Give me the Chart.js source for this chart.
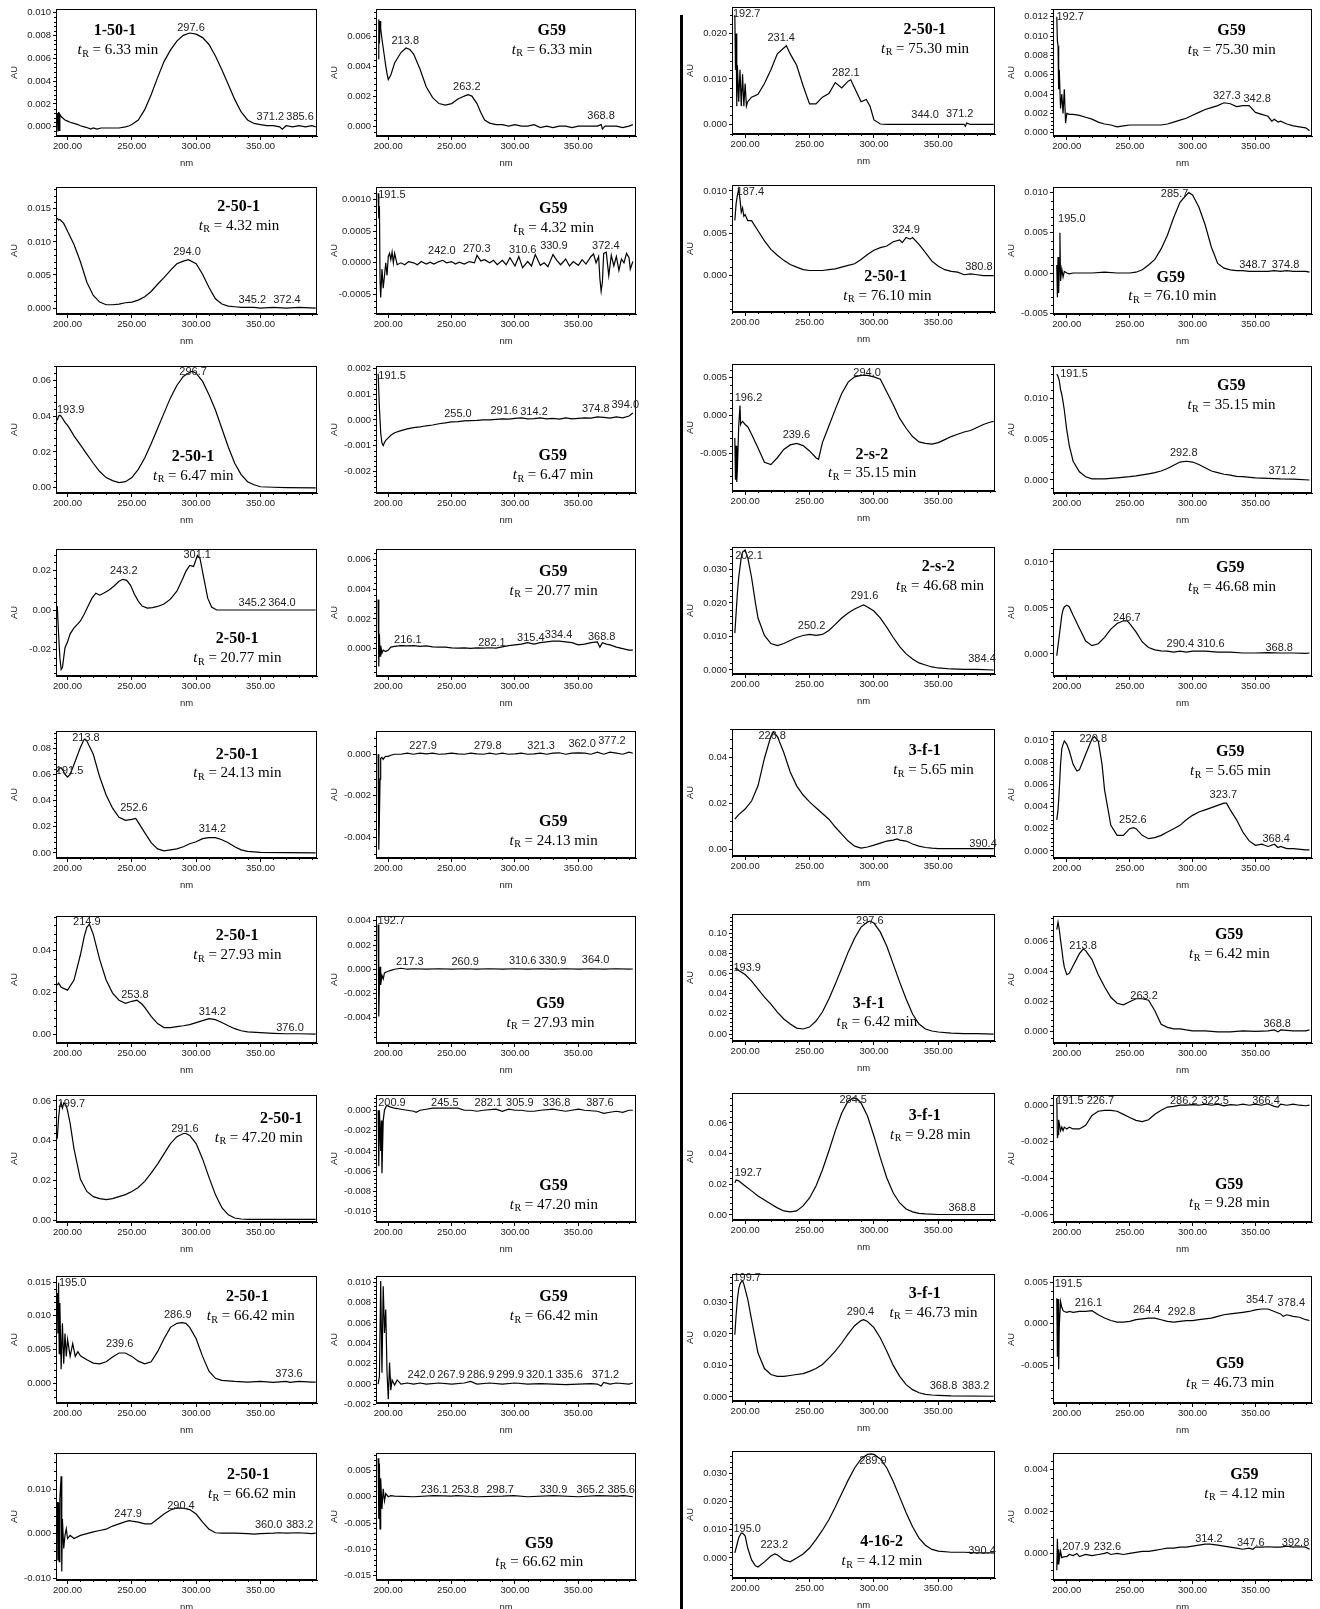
<!DOCTYPE html>
<html>
<head>
<meta charset="utf-8">
<script src="https://cdn.jsdelivr.net/npm/chart.js@4.4.1/dist/chart.umd.min.js"></script>
<style>
body { margin: 0; background: #fff; width: 1320px; height: 1609px; position: relative; overflow: hidden; }
#divider { position: absolute; left: 680px; top: 15px; width: 3px; height: 1594px; background: #000; }
</style>
</head>
<body>
<div id="divider"></div>
<script>
// wavelength tick labels (shared by every panel)
const wlTicks = ["200.00", "250.00", "300.00", "350.00"];
const wlTickVals = [200, 250, 300, 350];

// spectra: [nm, AU]
const p01 = [[192,0.0012],[192.5,-0.0004],[193,0.0013],[193.5,-0.0003],[194,0.0011],[195,0.0009],[196,0.0008],[198,0.0006],[200,0.0005],[202,0.0004],[205,0.0003],[208,0.0002],[210,0.0001],[213,0],[216,-0.0001],[218,-0.0002],[220,-0.0001],[223,-0.0002],[226,-0.0001],[230,-0.0001],[235,-0.0001],[240,-0.0001],[245,0],[248,0.0001],[250,0.0002],[255,0.0006],[260,0.0015],[265,0.0028],[270,0.0043],[275,0.0057],[280,0.0067],[285,0.0075],[290,0.008],[295,0.0082],[300,0.0081],[305,0.0078],[310,0.0072],[315,0.0062],[320,0.005],[325,0.0037],[330,0.0024],[335,0.0013],[340,0.0006],[345,0.0003],[350,0.0002],[355,0.0001],[360,0.0001],[365,0],[367,-0.0002],[370,0.0001],[375,0],[380,0.0001],[385,0],[390,0.0001],[393,0]];
const p02 = [[192,0.0045],[192.5,0.0071],[193,0.0055],[193.5,0.007],[194,0.0065],[195,0.0058],[196,0.0052],[197,0.0046],[198,0.004],[199,0.0035],[200,0.0031],[202,0.0034],[205,0.0042],[210,0.0049],[214,0.0052],[217,0.0051],[220,0.0048],[225,0.0038],[230,0.0026],[235,0.0019],[240,0.0015],[245,0.0014],[250,0.0015],[255,0.0018],[260,0.002],[263,0.0021],[266,0.002],[270,0.0015],[273,0.0009],[276,0.0004],[280,0.0002],[285,0.0001],[290,0.0001],[295,0],[300,0.0001],[305,0],[310,0],[315,0.0001],[320,-0.0001],[325,0],[330,-0.0001],[335,0],[340,0],[345,-0.0001],[350,0],[360,0],[365,0],[368,0.0001],[369,-0.0002],[371,0],[380,0],[385,-0.0001],[390,0],[393,0.0001]];
const p03 = [[192,0.024],[192.5,0.012],[193,0.02],[193.5,0.004],[194,0.013],[195,0.005],[196,0.012],[197,0.004],[198,0.011],[199,0.004],[200,0.009],[201,0.004],[202,0.005],[205,0.006],[210,0.0066],[215,0.009],[220,0.012],[225,0.0155],[230,0.0168],[232,0.0173],[235,0.0155],[240,0.013],[245,0.0085],[250,0.0045],[255,0.0045],[260,0.006],[265,0.0068],[270,0.0092],[275,0.008],[280,0.0095],[282,0.0098],[285,0.008],[290,0.005],[294,0.0055],[297,0.004],[300,0.001],[305,0.0001],[310,0],[340,0],[370,0],[371,-0.0004],[372,0.0003],[375,0],[393,0]];
const p04 = [[192,0.012],[192.5,0.0095],[193,0.009],[193.5,0.0045],[194,0.0065],[195,0.0025],[196,0.004],[197,0.002],[198,0.0045],[199,0.001],[200,0.002],[202,0.0019],[205,0.0019],[210,0.0018],[215,0.0016],[220,0.0014],[225,0.0011],[230,0.0009],[235,0.0008],[240,0.0006],[245,0.0007],[250,0.0008],[260,0.0008],[270,0.0008],[275,0.0008],[280,0.0009],[285,0.0011],[290,0.0013],[295,0.0015],[300,0.0018],[305,0.0021],[310,0.0024],[315,0.0026],[320,0.0028],[325,0.0031],[330,0.003],[335,0.0027],[340,0.0028],[345,0.0028],[350,0.0021],[355,0.0019],[360,0.0017],[363,0.0012],[365,0.0014],[368,0.0011],[370,0.0012],[375,0.0009],[380,0.0007],[385,0.0006],[390,0.0005],[393,0.0002]];
const p05 = [[192,0.0136],[193,0.0133],[194,0.0134],[195,0.0132],[197,0.0128],[200,0.0116],[205,0.0096],[210,0.007],[215,0.0039],[220,0.0019],[225,0.0009],[230,0.0005],[235,0.0005],[240,0.0006],[245,0.0008],[250,0.0009],[255,0.0012],[260,0.0017],[265,0.0025],[270,0.0036],[275,0.0046],[280,0.0057],[285,0.0067],[290,0.0071],[294,0.0073],[300,0.0067],[305,0.0051],[310,0.0031],[315,0.0014],[320,0.0006],[325,0.0003],[330,0.0002],[335,0.0001],[345,0.0001],[350,0],[360,0.0001],[370,0],[380,0.0001],[393,0]];
const p06 = [[192,0.0011],[192.5,0.0007],[193,0.0009],[193.5,-0.0003],[194,-0.00055],[195,-0.0001],[196,-0.0004],[197,-0.0002],[198,0],[199,-0.0002],[200,0.0001],[201,0.00015],[202,0.00005],[203,0.00017],[204,0],[205,0.00015],[207,-0.00003],[210,0],[213,-0.00003],[216,0.00002],[220,0],[223,-0.00003],[226,0.00002],[230,-0.00002],[233,0.00001],[236,-0.00002],[240,0.00002],[243,0.00004],[246,0],[250,0.00002],[253,-0.00002],[256,0.00001],[260,-0.00002],[264,0.00002],[268,0],[270,0.00012],[273,0.00003],[276,0.00005],[280,0],[283,0.00004],[286,-0.00003],[290,0.00004],[293,-0.00003],[296,0.00008],[300,-0.00005],[303,0.0001],[306,-0.00008],[310,0.00002],[313,-0.00005],[316,0.00013],[320,-0.00004],[323,0],[326,-0.00006],[330,0.00013],[333,0.00004],[336,-0.00003],[340,0.00006],[343,-0.00005],[346,0.00002],[350,-0.00004],[353,0.00005],[356,-0.00002],[360,0.0001],[362,0.00014],[364,0],[366,0.0001],[367,-0.00025],[368,-0.00045],[369,-0.0003],[370,0.00015],[372,0.00017],[374,-0.0002],[376,0.00012],[378,-0.00005],[380,0.0001],[382,-0.00012],[384,0.00006],[386,0],[388,0.00015],[390,0.00008],[391,-0.0001],[393,0.00002]];
const p07 = [[192,0.0065],[193,0.0085],[194,0.0095],[195,0.0102],[196,0.009],[197,0.0075],[198,0.008],[199,0.007],[200,0.0072],[202,0.0065],[205,0.0065],[210,0.0053],[215,0.0041],[220,0.0031],[225,0.0024],[230,0.0018],[235,0.0013],[240,0.001],[245,0.0007],[250,0.0006],[260,0.0006],[265,0.0007],[270,0.0008],[275,0.001],[280,0.0012],[285,0.0014],[290,0.0019],[295,0.0025],[300,0.003],[305,0.0033],[310,0.0035],[315,0.004],[320,0.0042],[322,0.0039],[325,0.0045],[328,0.0043],[330,0.0045],[335,0.0037],[340,0.0027],[345,0.0017],[350,0.0011],[355,0.0007],[360,0.0005],[365,0.0004],[370,0.0001],[375,0.0002],[380,0.0001],[385,0],[393,0]];
const p08 = [[192,0.001],[192.5,-0.003],[193,0.002],[193.5,-0.0025],[194,0.001],[194.5,0.005],[195,-0.001],[196,0.0005],[197,-0.0005],[198,0.0002],[200,0],[202,-0.0001],[205,0],[220,0],[230,0.0001],[240,0],[250,0],[255,0.0001],[260,0.0004],[265,0.001],[270,0.0017],[275,0.003],[280,0.0047],[285,0.0069],[290,0.0088],[295,0.0097],[297,0.01],[300,0.0097],[305,0.0082],[310,0.006],[315,0.0032],[320,0.0012],[325,0.0006],[330,0.0004],[335,0.0003],[340,0.0003],[345,0.0002],[360,0.0002],[365,0.0003],[370,0.0002],[375,0.0003],[380,0.0002],[390,0.0002],[393,0.0001]];
const p09 = [[192,0.0377],[193,0.04],[194,0.0405],[195,0.04],[196,0.0388],[198,0.0365],[200,0.0348],[202,0.0326],[205,0.029],[210,0.024],[215,0.0188],[220,0.0137],[225,0.0091],[230,0.0057],[235,0.004],[240,0.0029],[245,0.0034],[250,0.0057],[255,0.0103],[260,0.0166],[265,0.0246],[270,0.0331],[275,0.0417],[280,0.0502],[285,0.0571],[290,0.0622],[295,0.0645],[297,0.065],[300,0.064],[305,0.0594],[310,0.052],[315,0.0434],[320,0.0331],[325,0.0228],[330,0.0137],[335,0.0074],[340,0.0034],[345,0.0017],[350,0.0006],[360,0.0003],[370,0.0001],[393,0]];
const p10 = [[192,0.0018],[193,0.00046],[194,-0.0005],[195,-0.0009],[196,-0.001],[197,-0.00088],[198,-0.0008],[200,-0.0007],[202,-0.0006],[205,-0.0005],[210,-0.00042],[215,-0.00035],[220,-0.0003],[225,-0.00027],[230,-0.00023],[235,-0.0002],[240,-0.00015],[245,-0.00012],[250,-0.00008],[255,-0.00007],[260,-0.00004],[265,-0.00003],[270,-0.00002],[275,0],[280,0],[285,0.00002],[290,0.00004],[295,0.00003],[300,0.00006],[305,0.00008],[310,0.00004],[315,0.00005],[320,0.00008],[325,0.00004],[330,0.00006],[335,0.00003],[340,0.00008],[345,0.00004],[350,0.00006],[355,0.00008],[360,0.00007],[365,0.00012],[370,0.0001],[375,0.00007],[380,0.00012],[385,0.00008],[390,0.00015],[393,0.00027]];
const p11 = [[192,-0.003],[192.5,-0.0085],[193,-0.004],[193.5,-0.0088],[194,-0.007],[195,-0.0015],[196,0.0013],[196.5,-0.0012],[197,-0.001],[198,-0.0008],[199,-0.001],[200,-0.0012],[202,-0.0015],[205,-0.0025],[210,-0.0043],[215,-0.0062],[220,-0.0065],[225,-0.0056],[230,-0.0045],[235,-0.0039],[240,-0.0037],[245,-0.004],[250,-0.0047],[255,-0.0056],[257,-0.0058],[260,-0.0036],[265,-0.0014],[270,0.0008],[275,0.0029],[280,0.0044],[285,0.0051],[290,0.0053],[295,0.0053],[300,0.0051],[305,0.0048],[310,0.0031],[315,0.0014],[320,-0.0004],[325,-0.0017],[330,-0.0028],[335,-0.0035],[340,-0.0037],[345,-0.0038],[350,-0.0036],[355,-0.0032],[360,-0.0028],[365,-0.0025],[370,-0.0022],[375,-0.002],[380,-0.0016],[385,-0.0012],[390,-0.0009],[393,-0.0008]];
const p12 = [[192,0.013],[193,0.0127],[194,0.0122],[195,0.0111],[196,0.0105],[197,0.0096],[198,0.0086],[199,0.0073],[200,0.0061],[202,0.0042],[205,0.0023],[210,0.001],[215,0.0004],[220,0.00013],[230,0.00013],[240,0.00025],[250,0.0004],[255,0.0005],[260,0.00063],[265,0.00076],[270,0.0009],[275,0.0011],[280,0.0014],[285,0.0018],[290,0.0022],[295,0.0023],[300,0.0022],[305,0.0019],[310,0.0015],[315,0.0011],[320,0.0009],[325,0.0007],[330,0.0006],[335,0.00044],[340,0.0004],[350,0.00025],[360,0.0002],[370,0.00013],[380,0.0001],[393,0]];
const p13 = [[192,0.002],[193,-0.012],[194,-0.024],[195,-0.03],[196,-0.029],[197,-0.024],[198,-0.019],[200,-0.016],[202,-0.012],[205,-0.009],[208,-0.007],[210,-0.0055],[213,-0.002],[216,0.002],[219,0.006],[222,0.0085],[225,0.0075],[228,0.0085],[232,0.01],[236,0.012],[240,0.0145],[243,0.0155],[246,0.015],[249,0.0125],[252,0.008],[255,0.0045],[258,0.002],[262,0.001],[266,0.0012],[270,0.0018],[275,0.003],[280,0.0055],[285,0.0095],[289,0.015],[292,0.0195],[295,0.0225],[298,0.022],[301,0.0275],[303,0.026],[306,0.016],[309,0.006],[312,0.0015],[316,0],[393,0]];
const p14 = [[192,0.0033],[192.5,-0.0012],[193,0.001],[193.5,-0.0005],[194,0.0002],[195,-0.0003],[196,-0.0001],[198,-0.0002],[200,-0.0001],[202,0.0001],[205,0.00015],[210,0.0002],[215,0.00018],[220,0.0002],[225,0.00015],[230,0.00018],[235,0.00012],[240,0.0001],[245,0.0001],[250,0.00005],[255,0.00003],[260,0.00005],[265,0.00002],[270,0.00005],[275,0.00003],[280,0.00006],[285,0.00004],[290,0.00012],[295,0.0002],[300,0.00025],[305,0.0003],[310,0.0004],[315,0.0003],[320,0.0004],[325,0.00045],[330,0.0005],[335,0.0005],[340,0.00045],[345,0.0004],[350,0.00025],[355,0.0003],[360,0.0004],[365,0.00045],[367,0.0001],[369,0.0004],[372,0.0003],[375,0.00025],[380,0.0001],[385,0],[390,-0.0001],[393,-0.0001]];
const p15 = [[192,0.011],[193,0.017],[194,0.023],[195,0.0276],[196,0.0306],[197,0.0336],[198,0.0352],[200,0.0358],[202,0.0336],[205,0.0276],[208,0.02],[210,0.0155],[215,0.0103],[220,0.0079],[225,0.0073],[230,0.0079],[235,0.0088],[240,0.0097],[245,0.0103],[250,0.0106],[255,0.0103],[260,0.0106],[265,0.0118],[270,0.0136],[275,0.0155],[280,0.017],[285,0.0182],[290,0.0191],[292,0.0194],[295,0.0188],[300,0.0176],[305,0.0155],[310,0.0127],[315,0.0097],[320,0.007],[325,0.0048],[330,0.0033],[335,0.0021],[340,0.0015],[345,0.0009],[350,0.0006],[360,0.0003],[370,0.0002],[380,0.0002],[393,0]];
const p16 = [[192,-0.0002],[193,0.0009],[194,0.002],[195,0.0031],[196,0.0042],[197,0.0048],[198,0.0051],[200,0.0053],[202,0.0051],[205,0.0042],[210,0.0028],[215,0.0014],[220,0.0009],[225,0.0011],[230,0.0018],[235,0.0027],[240,0.0033],[245,0.0036],[248,0.0036],[250,0.0033],[255,0.0024],[260,0.0013],[265,0.0007],[270,0.00044],[275,0.00033],[280,0.0003],[285,0.0002],[290,0.0003],[295,0.0002],[300,0.0003],[310,0.0003],[320,0.0002],[330,0.0002],[340,0.0001],[350,0.0001],[360,0.00015],[370,0.0001],[380,0.0001],[390,0.00005],[393,0.0001]];
const p17 = [[192,0.062],[193,0.0637],[194,0.065],[195,0.065],[196,0.0637],[197,0.062],[198,0.06],[200,0.058],[202,0.06],[205,0.0676],[210,0.0808],[213,0.087],[215,0.0855],[220,0.0754],[225,0.058],[230,0.0443],[235,0.0342],[240,0.0272],[245,0.0249],[250,0.0256],[253,0.0264],[255,0.0233],[260,0.0155],[265,0.0078],[270,0.0031],[275,0.0016],[280,0.0023],[285,0.0031],[290,0.0047],[295,0.007],[300,0.0085],[305,0.0109],[310,0.0117],[315,0.0117],[320,0.0101],[325,0.0078],[330,0.0047],[335,0.0023],[340,0.0012],[345,0.0008],[350,0.0004],[370,0.0002],[393,0]];
const p18 = [[192,0],[192.5,-0.0046],[193,-0.003],[193.5,-0.0012],[194,-0.0002],[195,-0.00015],[196,-0.00025],[197,-0.00015],[198,-0.0001],[200,-0.0001],[202,-0.00005],[205,0],[210,0],[215,0.00005],[220,0],[225,0.00005],[230,0.00002],[235,0.00005],[240,0],[245,0.00002],[250,0.00005],[255,0.00002],[260,0],[265,0.00005],[270,0.00002],[275,0],[280,0.00005],[285,0],[290,0.00005],[295,0],[300,0.00002],[305,0.00005],[310,0],[315,0.00002],[320,0.00005],[325,0],[330,0.00005],[335,0.00007],[340,0],[345,0.00005],[350,0.00007],[355,0.00005],[360,0],[365,0.0001],[370,0],[375,0.0001],[380,0.00005],[385,0],[390,0.0001],[393,0.00005]];
const p19 = [[192,0.013],[195,0.015],[200,0.0174],[205,0.0209],[210,0.0275],[215,0.0395],[220,0.049],[222,0.0509],[225,0.049],[230,0.042],[235,0.0335],[240,0.0275],[245,0.0235],[250,0.0205],[255,0.018],[260,0.0155],[265,0.013],[270,0.0096],[275,0.0065],[280,0.0035],[285,0.0013],[290,0.0004],[295,0.0009],[300,0.0017],[305,0.0026],[310,0.0035],[315,0.0039],[318,0.0044],[320,0.0039],[325,0.0035],[330,0.0022],[335,0.0013],[340,0.0007],[345,0.0004],[350,0.0002],[370,0.0002],[393,0.0002]];
const p20 = [[192,0.0028],[193,0.0037],[194,0.0055],[195,0.0078],[196,0.0092],[197,0.0096],[198,0.0099],[200,0.0096],[202,0.009],[205,0.0078],[208,0.0072],[210,0.0073],[215,0.0087],[220,0.0101],[222,0.0103],[225,0.0099],[228,0.0078],[230,0.0055],[235,0.0023],[240,0.0014],[245,0.0014],[250,0.002],[253,0.0021],[255,0.002],[260,0.0014],[265,0.0011],[270,0.0012],[275,0.0014],[280,0.0017],[285,0.002],[290,0.0023],[295,0.0028],[300,0.0032],[305,0.0035],[310,0.0037],[315,0.0039],[320,0.0041],[325,0.0043],[327,0.0043],[330,0.0037],[335,0.0028],[340,0.0017],[345,0.0009],[350,0.0005],[355,0.0006],[360,0.0004],[365,0.0006],[368,0.0003],[370,0.0004],[375,0.0002],[380,0.0002],[390,0.0001],[393,0.0001]];
const p21 = [[192,0.0236],[193,0.0245],[195,0.0226],[200,0.0212],[205,0.026],[210,0.038],[213,0.0467],[215,0.051],[217,0.0525],[220,0.0477],[225,0.0357],[230,0.026],[235,0.0198],[240,0.0164],[245,0.0149],[250,0.0159],[254,0.0164],[258,0.0145],[260,0.013],[265,0.0087],[270,0.0053],[275,0.0034],[280,0.0034],[285,0.0039],[290,0.0043],[295,0.0048],[300,0.0058],[305,0.0067],[310,0.0077],[315,0.0072],[320,0.0058],[325,0.0043],[330,0.0029],[335,0.0019],[340,0.0014],[350,0.001],[360,0.0007],[370,0.0005],[380,0.0005],[393,0.0003]];
const p22 = [[192,0.0037],[192.5,-0.0039],[193,-0.0013],[193.5,0.0002],[194,-0.0013],[195,-0.0005],[196,-0.0008],[197,-0.0003],[198,-0.00025],[200,-0.00017],[202,-0.0001],[205,0],[210,0.00008],[215,0],[220,0.00004],[230,0],[240,0.00004],[250,0],[260,0.00004],[270,0],[280,0.00004],[290,0],[300,0.00004],[310,0],[320,0.00004],[330,0],[340,0.00004],[350,0],[360,0.00004],[370,0],[380,0.00004],[390,0],[393,0.00002]];
const p23 = [[192,0.0644],[193,0.065],[194,0.0645],[195,0.063],[200,0.059],[205,0.0525],[210,0.0445],[215,0.0366],[220,0.0297],[225,0.0218],[230,0.0149],[235,0.0099],[240,0.0059],[245,0.005],[250,0.0069],[255,0.0129],[260,0.0218],[265,0.0347],[270,0.0495],[275,0.0653],[280,0.0812],[285,0.095],[290,0.106],[295,0.111],[297,0.112],[300,0.11],[305,0.101],[310,0.087],[315,0.0693],[320,0.0515],[325,0.0347],[330,0.0198],[335,0.0099],[340,0.005],[345,0.003],[350,0.002],[360,0.001],[370,0.0005],[380,0.0005],[393,0]];
const p24 = [[192,0.0068],[193,0.0073],[194,0.0068],[195,0.0061],[196,0.0055],[197,0.0048],[198,0.0043],[200,0.0038],[202,0.0039],[205,0.0044],[210,0.0052],[213,0.0055],[215,0.0054],[220,0.0048],[225,0.0038],[230,0.003],[235,0.0023],[240,0.0019],[245,0.0018],[250,0.002],[255,0.0022],[260,0.0022],[265,0.0021],[270,0.0014],[275,0.0005],[280,0.0003],[285,0.0002],[290,0.0002],[295,0.00013],[300,0.00007],[310,0.00007],[320,0],[330,0],[340,0.00007],[350,0.00003],[360,0.00007],[365,0.00013],[368,0],[370,0.00013],[380,0.00007],[390,0.00007],[393,0.00013]];
const p25 = [[192,0.041],[193,0.0513],[194,0.0575],[195,0.059],[196,0.0564],[197,0.059],[198,0.0585],[199,0.0575],[200,0.055],[202,0.0487],[205,0.0359],[210,0.0205],[215,0.0144],[220,0.0118],[225,0.0108],[230,0.0103],[235,0.0108],[240,0.0118],[245,0.0128],[250,0.0144],[255,0.0164],[260,0.0195],[265,0.0236],[270,0.0282],[275,0.0333],[280,0.0385],[285,0.042],[290,0.0436],[292,0.0436],[295,0.0426],[300,0.0385],[305,0.0308],[310,0.0215],[315,0.0128],[320,0.0062],[325,0.0026],[330,0.001],[335,0.0005],[340,0.0003],[393,0.0003]];
const p26 = [[192,0],[192.5,-0.0055],[193,0],[193.5,-0.002],[194,-0.004],[194.5,-0.001],[195,-0.0062],[196,-0.001],[197,0],[198,0.0003],[199,0.0005],[200,0.0004],[202,0.0003],[205,0.0002],[210,0.0001],[215,0],[220,-0.0001],[222,-0.0002],[225,0],[230,0.0001],[235,0.0002],[250,0.0002],[255,0.0002],[260,0],[265,0],[270,-0.0001],[275,0],[285,0.0001],[290,-0.0001],[295,0.0001],[300,0],[305,0],[310,-0.0001],[315,-0.0001],[320,0],[330,0.0001],[335,0],[340,-0.0001],[345,0],[350,0.0001],[355,0],[365,-0.0001],[370,-0.0003],[375,-0.0002],[380,-0.0001],[385,-0.0002],[390,0],[393,0]];
const p27 = [[192,0.0209],[193,0.0228],[195,0.0222],[200,0.0189],[205,0.0157],[210,0.0124],[215,0.0098],[220,0.0072],[225,0.0046],[230,0.0026],[235,0.002],[240,0.0026],[245,0.0059],[250,0.0111],[255,0.0189],[260,0.0293],[265,0.0417],[270,0.0548],[275,0.0665],[280,0.0743],[284,0.0763],[287,0.0757],[290,0.073],[295,0.0645],[300,0.0515],[305,0.0372],[310,0.0241],[315,0.0143],[320,0.0078],[325,0.0039],[330,0.002],[335,0.001],[340,0.0007],[350,0.0003],[393,0.0003]];
const p28 = [[192,0.0004],[192.5,-0.0018],[193,-0.0016],[193.5,-0.0008],[194,-0.001],[195,-0.0014],[196,-0.0012],[197,-0.0014],[198,-0.0012],[200,-0.0013],[202,-0.0012],[205,-0.0013],[210,-0.0013],[215,-0.0011],[220,-0.00056],[225,-0.00033],[230,-0.00028],[235,-0.00028],[240,-0.00033],[245,-0.0005],[250,-0.00067],[255,-0.00083],[260,-0.0009],[265,-0.0008],[270,-0.0005],[275,-0.00028],[280,-0.0001],[285,-0.00006],[290,0],[295,0],[300,0.00003],[305,0],[310,0.00006],[315,0],[320,0.00006],[325,-0.00003],[330,0.00003],[335,0],[340,0.00006],[345,0],[350,0.00006],[355,0],[360,0.00008],[365,-0.00006],[368,-0.0001],[370,0.00006],[375,0],[380,0.00006],[385,0],[390,-0.00003],[393,0]];
const p29 = [[192,0.0134],[192.5,0.0074],[193,0.0149],[193.5,0.0044],[194,0.0119],[195,0.0021],[196,0.0089],[197,0.0029],[198,0.0074],[199,0.004],[200,0.0065],[202,0.004],[204,0.0059],[206,0.004],[208,0.0047],[210,0.0041],[215,0.0035],[220,0.003],[225,0.0029],[230,0.0032],[235,0.0039],[240,0.0045],[245,0.0045],[250,0.004],[255,0.0033],[260,0.0029],[265,0.0032],[270,0.0047],[275,0.0066],[280,0.0083],[285,0.0089],[289,0.009],[292,0.0089],[295,0.0083],[300,0.0066],[305,0.004],[310,0.0018],[315,0.00075],[320,0.00045],[330,0.0003],[340,0.0002],[350,0.0003],[360,0.00015],[370,0.0003],[373,0.00015],[380,0.0003],[390,0.0002],[393,0.0002]];
const p30 = [[192,0],[193,0.00075],[194,0.0101],[195,0.0011],[196,0.0096],[197,0.005],[198,0.0073],[199,0.0011],[200,-0.0015],[201,0.0021],[202,-0.0006],[203,0.0004],[205,-0.0001],[207,0.0004],[210,0],[215,0.0001],[220,0],[225,0.0001],[230,0],[240,0.0001],[250,0],[260,0.0001],[265,0.00026],[270,0],[280,0.0001],[290,0],[300,0.0001],[310,0],[320,0.00005],[330,0],[340,-0.00005],[350,0],[360,0.00005],[365,0],[368,-0.0002],[370,0.00015],[375,0],[380,0.0001],[390,0],[393,0.0001]];
const p31 = [[192,0.0197],[193,0.026],[194,0.031],[195,0.0342],[196,0.0358],[197,0.0365],[198,0.0368],[199,0.0358],[200,0.0342],[202,0.031],[205,0.0245],[208,0.0181],[210,0.0139],[215,0.009],[220,0.0071],[225,0.0065],[230,0.0065],[235,0.0068],[240,0.0071],[245,0.0074],[250,0.0081],[255,0.009],[260,0.0103],[265,0.0123],[270,0.0145],[275,0.0171],[280,0.02],[285,0.0226],[290,0.0242],[292,0.0245],[295,0.0239],[300,0.022],[305,0.0187],[310,0.0145],[315,0.01],[320,0.0065],[325,0.0039],[330,0.0023],[335,0.0013],[340,0.0008],[345,0.0006],[350,0.0005],[360,0.0003],[393,0.0002]];
const p32 = [[192,0.0031],[192.5,-0.004],[193,0.003],[193.5,-0.0055],[194,-0.0003],[195,0.0027],[196,0.002],[197,0.0016],[198,0.0015],[200,0.0014],[202,0.0015],[205,0.0014],[210,0.0015],[215,0.0015],[220,0.0016],[225,0.0011],[230,0.0007],[235,0.0004],[240,0.0002],[245,0.0002],[250,0.0003],[255,0.0005],[260,0.0006],[265,0.0007],[270,0.0007],[275,0.0005],[280,0.0003],[285,0.0002],[290,0.0003],[295,0.0004],[300,0.0004],[305,0.0005],[310,0.0006],[315,0.0007],[320,0.0009],[325,0.0011],[330,0.0012],[335,0.0013],[340,0.0014],[345,0.0015],[350,0.0017],[355,0.0018],[360,0.0018],[365,0.0015],[370,0.0012],[372,0.0009],[375,0.0011],[380,0.0009],[385,0.0008],[390,0.0005],[393,0.0004]];
const p33 = [[192,0.0071],[192.5,-0.006],[193,0.007],[193.5,-0.0063],[194,0.0078],[195,0.0129],[195.5,-0.0085],[196,0.0033],[197,-0.0033],[198,-0.0004],[199,0.0011],[200,-0.0011],[202,-0.0004],[205,-0.0011],[210,-0.0004],[215,0],[220,0.0004],[225,0.0007],[230,0.001],[235,0.0017],[240,0.0022],[245,0.0027],[248,0.0029],[250,0.0028],[255,0.0026],[260,0.0022],[265,0.0022],[270,0.0033],[275,0.0044],[280,0.0053],[285,0.0058],[290,0.0057],[295,0.0054],[300,0.0044],[305,0.0026],[310,0.001],[315,0.0002],[320,0.0001],[330,0.0001],[340,0],[345,-0.0001],[350,0],[360,0.0001],[365,0.0002],[370,0.0001],[380,0.0002],[390,0],[393,0.0001]];
const p34 = [[192,0.0073],[192.5,-0.0042],[193,0.0063],[193.5,-0.0061],[194,0.0035],[195,-0.0023],[196,0.0015],[197,-0.0008],[198,0.0006],[200,0],[202,0.0002],[205,0.0001],[220,0],[236,0.0002],[250,0.0001],[254,0.0002],[270,0],[290,0.0001],[299,0.0002],[310,0],[330,0.0002],[350,0],[365,0.0002],[380,0.0001],[386,0.0002],[393,0]];
const p35 = [[192,0.0018],[193,0.0035],[195,0.0071],[197,0.0088],[198,0.0088],[200,0.0078],[202,0.0035],[205,-0.0007],[208,-0.0028],[210,-0.0032],[215,-0.0014],[220,0.0007],[223,0.0014],[225,0.0011],[230,-0.0007],[235,-0.0014],[240,0],[245,0.0014],[250,0.0035],[255,0.0065],[260,0.0098],[265,0.0135],[270,0.018],[275,0.0228],[280,0.0275],[285,0.0318],[290,0.035],[295,0.0366],[298,0.0368],[300,0.0366],[305,0.035],[310,0.0318],[315,0.027],[320,0.0215],[325,0.016],[330,0.011],[335,0.007],[340,0.0045],[345,0.003],[350,0.0024],[360,0.002],[370,0.002],[380,0.0018],[393,0.0018]];
const p36 = [[192,-0.0008],[192.5,0.0007],[193,-0.0005],[193.5,0.0002],[194,-0.0003],[195,0.0001],[196,-0.0002],[198,-0.00015],[200,-0.00015],[202,-0.00005],[205,-0.0001],[208,0],[210,-0.00015],[215,-0.00005],[220,-0.0001],[225,-0.00005],[230,0],[232,0.00005],[235,-0.00005],[240,0],[245,-0.00005],[250,0],[255,0.00005],[260,0.0001],[265,0.0001],[270,0.00015],[275,0.0002],[280,0.00025],[285,0.00025],[290,0.0003],[295,0.0003],[300,0.00035],[305,0.0004],[310,0.00044],[314,0.00044],[320,0.0004],[325,0.00035],[330,0.0003],[335,0.00025],[340,0.0002],[345,0.00025],[348,0.0002],[350,0.0003],[355,0.0003],[360,0.00032],[365,0.0003],[370,0.0003],[375,0.00035],[380,0.0003],[385,0.00032],[390,0.0003],[393,0.0002]];

// peak labels: [text, nm, AU]
const lab01 = [["297.6",296,0.00865],["371.2",357.7,0.00087],["385.6",380.8,0.00087]];
const lab02 = [["213.8",213.4,0.0057],["263.2",262,0.0026],["368.8",367.9,0.00066]];
const lab03 = [["192.7",201.2,0.0243],["231.4",228,0.0189],["282.1",278.2,0.0113],["344.0",339.7,0.002],["371.2",366.6,0.0022]];
const lab04 = [["192.7",202.7,0.012],["327.3",327.2,0.00385],["342.8",351.4,0.0035]];
const lab05 = [["294.0",292.9,0.0085],["345.2",343.7,0.0012],["372.4",370.6,0.0012]];
const lab06 = [["191.5",202.9,0.00107],["242.0",242.3,0.00018],["270.3",269.8,0.00022],["310.6",306.1,0.0002],["330.9",330.7,0.00026],["372.4",371.7,0.00026]];
const lab07 = [["187.4",204,0.0099],["324.9",325,0.0054],["380.8",381.5,0.001]];
const lab08 = [["195.0",204,0.0067],["285.7",285.7,0.0098],["348.7",348,0.001],["374.8",374,0.001]];
const lab09 = [["193.9",202.4,0.0434],["296.7",297.6,0.0645]];
const lab10 = [["191.5",203,0.0017],["255.0",255,0.00023],["291.6",291.5,0.00035],["314.2",315,0.0003],["374.8",363.8,0.00042],["394.0",387,0.00058]];
const lab11 = [["196.2",202.6,0.00235],["239.6",239.8,-0.0026],["294.0",294.7,0.0056]];
const lab12 = [["191.5",205.7,0.013],["292.8",293,0.0033],["371.2",371.4,0.0011]];
const lab13 = [["243.2",243.7,0.0195],["301.1",300.8,0.0277],["345.2",343.7,0.0036],["364.0",366.7,0.0036]];
const lab14 = [["216.1",215.4,0.00055],["282.1",281.8,0.0004],["315.4",312.5,0.00075],["334.4",334.4,0.0009],["368.8",368.4,0.0008]];
const lab15 = [["202.1",203,0.034],["250.2",251.6,0.013],["291.6",292.7,0.0221],["384.4",383.9,0.0033]];
const lab16 = [["246.7",247.7,0.0039],["290.4",290.3,0.0011],["310.6",314.5,0.0011],["368.8",368.9,0.00067]];
const lab17 = [["213.8",214.3,0.0878],["191.5",201.6,0.063],["252.6",251.6,0.0342],["314.2",312.7,0.0186]];
const lab18 = [["227.9",227.5,0.00039],["279.8",278.5,0.00039],["321.3",320.6,0.00039],["362.0",353,0.00049],["377.2",376.5,0.00063]];
const lab19 = [["226.8",221,0.0492],["317.8",319.4,0.0078],["390.4",384.7,0.0022]];
const lab20 = [["220.8",221,0.0101],["252.6",252.5,0.0028],["323.7",324.5,0.005],["368.4",366.5,0.0011]];
const lab21 = [["214.9",215,0.0535],["253.8",252.4,0.0188],["314.2",312.7,0.0106],["376.0",373,0.0034]];
const lab22 = [["192.7",202.4,0.004],["217.3",217,0.0006],["260.9",260.7,0.0006],["310.6",306.1,0.00067],["330.9",329.6,0.00067],["364.0",363.6,0.00076]];
const lab23 = [["193.9",201.6,0.0653],["297.6",296.8,0.112]];
const lab24 = [["213.8",212.9,0.0057],["263.2",261.4,0.0024],["368.8",367.3,0.00054]];
const lab25 = [["199.7",203,0.0585],["291.6",291.3,0.0457]];
const lab26 = [["200.9",202.9,0.0007],["245.5",244.6,0.0007],["282.1",279,0.0007],["305.9",303.8,0.0007],["336.8",332.8,0.0007],["387.6",367,0.0007]];
const lab27 = [["192.7",202.4,0.0274],["284.5",283.9,0.075],["368.8",368.5,0.0046]];
const lab28 = [["191.5",202.4,0.00022],["226.7",226.7,0.00022],["286.2",293,0.00022],["322.5",318,0.00022],["366.4",358.4,0.00022]];
const lab29 = [["195.0",204,0.0149],["239.6",240.5,0.0059],["286.9",285.7,0.0102],["373.6",372.2,0.0014]];
const lab30 = [["242.0",226.1,0.00085],["267.9",249.5,0.00085],["286.9",272.8,0.00085],["299.9",296.1,0.00085],["320.1",319.5,0.00085],["335.6",342.8,0.00085],["371.2",371.4,0.00085]];
const lab31 = [["199.7",201.6,0.0378],["290.4",289.5,0.0271],["368.8",354,0.0036],["383.2",379,0.0036]];
const lab32 = [["191.5",201.3,0.0048],["216.1",217.2,0.0025],["264.4",263.5,0.0017],["292.8",291.3,0.0014],["354.7",353.4,0.0029],["378.4",378.5,0.0025]];
const lab33 = [["247.9",247.1,0.0044],["290.4",288.2,0.0062],["360.0",356.4,0.0019],["383.2",380.5,0.0019]];
const lab34 = [["236.1",236.4,0.0013],["253.8",260.7,0.0013],["298.7",288.3,0.0013],["330.9",330.4,0.0013],["365.2",359.5,0.0013],["385.6",383.8,0.0013]];
const lab35 = [["195.0",201.6,0.0102],["223.2",222.6,0.0046],["289.9",299.2,0.0342],["390.4",383.9,0.0025]];
const lab36 = [["207.9",207.3,0.0003],["232.6",232.3,0.0003],["314.2",313,0.0007],["347.6",346.3,0.0005],["392.8",381.9,0.0005]];

// AU tick labels
const yt01 = ["0.000","0.002","0.004","0.006","0.008","0.010"];
const yt02 = ["0.000","0.002","0.004","0.006"];
const yt03 = ["0.000","0.010","0.020"];
const yt04 = ["0.000","0.002","0.004","0.006","0.008","0.010","0.012"];
const yt05 = ["0.000","0.005","0.010","0.015"];
const yt06 = ["-0.0005","0.0000","0.0005","0.0010"];
const yt07 = ["0.000","0.005","0.010"];
const yt08 = ["-0.005","0.000","0.005","0.010"];
const yt09 = ["0.00","0.02","0.04","0.06"];
const yt10 = ["-0.002","-0.001","0.000","0.001","0.002"];
const yt11 = ["-0.005","0.000","0.005"];
const yt12 = ["0.000","0.005","0.010"];
const yt13 = ["-0.02","0.00","0.02"];
const yt14 = ["0.000","0.002","0.004","0.006"];
const yt15 = ["0.000","0.010","0.020","0.030"];
const yt16 = ["0.000","0.005","0.010"];
const yt17 = ["0.00","0.02","0.04","0.06","0.08"];
const yt18 = ["-0.004","-0.002","0.000"];
const yt19 = ["0.00","0.02","0.04"];
const yt20 = ["0.000","0.002","0.004","0.006","0.008","0.010"];
const yt21 = ["0.00","0.02","0.04"];
const yt22 = ["-0.004","-0.002","0.000","0.002","0.004"];
const yt23 = ["0.00","0.02","0.04","0.06","0.08","0.10"];
const yt24 = ["0.000","0.002","0.004","0.006"];
const yt25 = ["0.00","0.02","0.04","0.06"];
const yt26 = ["-0.010","-0.008","-0.006","-0.004","-0.002","0.000"];
const yt27 = ["0.00","0.02","0.04","0.06"];
const yt28 = ["-0.006","-0.004","-0.002","0.000"];
const yt29 = ["0.000","0.005","0.010","0.015"];
const yt30 = ["-0.002","0.000","0.002","0.004","0.006","0.008","0.010"];
const yt31 = ["0.000","0.010","0.020","0.030"];
const yt32 = ["-0.005","0.000","0.005"];
const yt33 = ["-0.010","0.000","0.010"];
const yt34 = ["-0.015","-0.010","-0.005","0.000","0.005"];
const yt35 = ["0.000","0.010","0.020","0.030"];
const yt36 = ["0.000","0.002","0.004"];

// panel set-up, in reading order (4 per row)
const panels = [
  { pts: p01, peaks: lab01, yt: yt01, y: [-0.0008, 0.0103], name: "1-50-1", tR: "6.33", at: [0.226, 0.236, 0.175] },
  { pts: p02, peaks: lab02, yt: yt02, y: [-0.00066, 0.0078], name: "G59", tR: "6.33", at: [0.676, 0.676, 0.17] },
  { pts: p03, peaks: lab03, yt: yt03, y: [-0.0021, 0.0258], name: "2-50-1", tR: "75.30", at: [0.733, 0.733, 0.18] },
  { pts: p04, peaks: lab04, yt: yt04, y: [-0.00034, 0.0128], name: "G59", tR: "75.30", at: [0.689, 0.689, 0.17] },
  { pts: p05, peaks: lab05, yt: yt05, y: [-0.0009, 0.0183], name: "2-50-1", tR: "4.32", at: [0.70, 0.70, 0.155] },
  { pts: p06, peaks: lab06, yt: yt06, y: [-0.00081, 0.0012], name: "G59", tR: "4.32", at: [0.682, 0.682, 0.174] },
  { pts: p07, peaks: lab07, yt: yt07, y: [-0.0043, 0.0107], name: "2-50-1", tR: "76.10", at: [0.584, 0.59, 0.722] },
  { pts: p08, peaks: lab08, yt: yt08, y: [-0.0051, 0.0107], name: "G59", tR: "76.10", at: [0.455, 0.46, 0.712] },
  { pts: p09, peaks: lab09, yt: yt09, y: [-0.0029, 0.068], name: "2-50-1", tR: "6.47", at: [0.525, 0.525, 0.715] },
  { pts: p10, peaks: lab10, yt: yt10, y: [-0.00285, 0.0021], name: "G59", tR: "6.47", at: [0.68, 0.68, 0.71] },
  { pts: p11, peaks: lab11, yt: yt11, y: [-0.010, 0.0068], name: "2-s-2", tR: "35.15", at: [0.532, 0.532, 0.712] },
  { pts: p12, peaks: lab12, yt: yt12, y: [-0.0016, 0.014], name: "G59", tR: "35.15", at: [0.688, 0.688, 0.16] },
  { pts: p13, peaks: lab13, yt: yt13, y: [-0.0333, 0.0308], name: "2-50-1", tR: "20.77", at: [0.694, 0.694, 0.71] },
  { pts: p14, peaks: lab14, yt: yt14, y: [-0.00184, 0.0067], name: "G59", tR: "20.77", at: [0.682, 0.682, 0.18] },
  { pts: p15, peaks: lab15, yt: yt15, y: [-0.0012, 0.0367], name: "2-s-2", tR: "46.68", at: [0.784, 0.79, 0.155] },
  { pts: p16, peaks: lab16, yt: yt16, y: [-0.0024, 0.0114], name: "G59", tR: "46.68", at: [0.684, 0.69, 0.15] },
  { pts: p17, peaks: lab17, yt: yt17, y: [-0.0039, 0.0932], name: "2-50-1", tR: "24.13", at: [0.694, 0.694, 0.185] },
  { pts: p18, peaks: lab18, yt: yt18, y: [-0.005, 0.00112], name: "G59", tR: "24.13", at: [0.682, 0.682, 0.714] },
  { pts: p19, peaks: lab19, yt: yt19, y: [-0.003, 0.0522], name: "3-f-1", tR: "5.65", at: [0.733, 0.765, 0.175] },
  { pts: p20, peaks: lab20, yt: yt20, y: [-0.00064, 0.0108], name: "G59", tR: "5.65", at: [0.684, 0.684, 0.165] },
  { pts: p21, peaks: lab21, yt: yt21, y: [-0.0039, 0.0564], name: "2-50-1", tR: "27.93", at: [0.694, 0.694, 0.16] },
  { pts: p22, peaks: lab22, yt: yt22, y: [-0.0061, 0.0044], name: "G59", tR: "27.93", at: [0.67, 0.67, 0.69] },
  { pts: p23, peaks: lab23, yt: yt23, y: [-0.0069, 0.119], name: "3-f-1", tR: "6.42", at: [0.52, 0.55, 0.705] },
  { pts: p24, peaks: lab24, yt: yt24, y: [-0.00074, 0.0077], name: "G59", tR: "6.42", at: [0.68, 0.68, 0.152] },
  { pts: p25, peaks: lab25, yt: yt25, y: [-0.001, 0.063], name: "2-50-1", tR: "47.20", at: [0.863, 0.776, 0.186] },
  { pts: p26, peaks: lab26, yt: yt26, y: [-0.011, 0.0015], name: "G59", tR: "47.20", at: [0.683, 0.683, 0.715] },
  { pts: p27, peaks: lab27, yt: yt27, y: [-0.0033, 0.0795], name: "3-f-1", tR: "9.28", at: [0.733, 0.753, 0.18] },
  { pts: p28, peaks: lab28, yt: yt28, y: [-0.0064, 0.00056], name: "G59", tR: "9.28", at: [0.68, 0.68, 0.705] },
  { pts: p29, peaks: lab29, yt: yt29, y: [-0.0029, 0.0159], name: "2-50-1", tR: "66.42", at: [0.733, 0.745, 0.168] },
  { pts: p30, peaks: lab30, yt: yt30, y: [-0.00186, 0.0106], name: "G59", tR: "66.42", at: [0.683, 0.683, 0.168] },
  { pts: p31, peaks: lab31, yt: yt31, y: [-0.0013, 0.039], name: "3-f-1", tR: "46.73", at: [0.733, 0.765, 0.155] },
  { pts: p32, peaks: lab32, yt: yt32, y: [-0.0096, 0.0058], name: "G59", tR: "46.73", at: [0.683, 0.683, 0.69] },
  { pts: p33, peaks: lab33, yt: yt33, y: [-0.0104, 0.0181], name: "2-50-1", tR: "66.62", at: [0.737, 0.75, 0.175] },
  { pts: p34, peaks: lab34, yt: yt34, y: [-0.0158, 0.0083], name: "G59", tR: "66.62", at: [0.627, 0.627, 0.712] },
  { pts: p35, peaks: lab35, yt: yt35, y: [-0.0071, 0.0378], name: "4-16-2", tR: "4.12", at: [0.569, 0.569, 0.718] },
  { pts: p36, peaks: lab36, yt: yt36, y: [-0.00127, 0.0048], name: "G59", tR: "4.12", at: [0.739, 0.739, 0.17] }
];

// layout of the plot boxes on the page
const colRange = [[191, 394], [190.3, 395.5], [189.8, 394], [189, 395]];
const colLeft = [56, 376, 732, 1053];
const colWidth = [261, 260, 263, 259];
const rowTop = [9, 187, 366, 549, 731, 916, 1095, 1276, 1453];
const boxH = 127;
const AXW = 56, AXH = 36, PADT = 10, PADR = 8;
const sans = "Liberation Sans", serif = "Liberation Serif";

function decorFor(p) {
  return {
    id: "decor",
    afterDraw(chart) {
      const c = chart.ctx, a = chart.chartArea, xs = chart.scales.x, ys = chart.scales.y;
      c.save();
      c.strokeStyle = "#000";
      c.lineWidth = 1;
      c.strokeRect(a.left + 0.5, a.top + 0.5, a.right - a.left - 1, a.bottom - a.top - 1);
      // minor ticks
      c.beginPath();
      for (let w = 190; w <= 395; w += 10) {
        if (w % 50 === 0 || w < xs.min || w > xs.max) continue;
        const px = Math.round(xs.getPixelForValue(w)) + 0.5;
        c.moveTo(px, a.bottom);
        c.lineTo(px, a.bottom + 2);
      }
      const tv = p.yt.map(Number);
      const step = (tv[1] - tv[0]) / 5;
      for (let k = -10; k < 80; k++) {
        const v = tv[0] + k * step;
        if (v < ys.min || v > ys.max || k % 5 === 0) continue;
        const py = Math.round(ys.getPixelForValue(v)) + 0.5;
        c.moveTo(a.left, py);
        c.lineTo(a.left - 2, py);
      }
      c.stroke();
      // peak labels
      c.fillStyle = "#222";
      c.font = "11px '" + sans + "'";
      c.textAlign = "center";
      c.textBaseline = "middle";
      p.peaks.forEach(([t, x, y]) => c.fillText(t, xs.getPixelForValue(x), ys.getPixelForValue(y)));
      // sample name and retention time
      const w = a.right - a.left, h = a.bottom - a.top;
      const cy = a.top + p.at[2] * h;
      c.fillStyle = "#000";
      c.font = "bold 16px '" + serif + "'";
      c.fillText(p.name, a.left + p.at[0] * w, cy);
      const fT = "italic 15px '" + serif + "'", fR = "10px '" + serif + "'", fN = "15px '" + serif + "'";
      const rest = " = " + p.tR + " min";
      c.font = fT; const w1 = c.measureText("t").width;
      c.font = fR; const w2 = c.measureText("R").width;
      c.font = fN; const w3 = c.measureText(rest).width;
      const x0 = a.left + p.at[1] * w - (w1 + w2 + w3) / 2, y0 = cy + 19;
      c.textAlign = "left";
      c.font = fT; c.fillText("t", x0, y0);
      c.font = fR; c.fillText("R", x0 + w1 + 0.5, y0 + 4);
      c.font = fN; c.fillText(rest, x0 + w1 + w2 + 0.5, y0);
      c.restore();
    }
  };
}

panels.forEach((p, i) => {
  const r = Math.floor(i / 4), k = i % 4;
  const top = rowTop[r] - (k === 2 ? 2 : 0);
  const cv = document.createElement("canvas");
  cv.width = AXW + colWidth[k] + PADR;
  cv.height = PADT + boxH + AXH;
  cv.style.position = "absolute";
  cv.style.left = (colLeft[k] - AXW) + "px";
  cv.style.top = (top - PADT) + "px";
  document.body.appendChild(cv);
  const yVals = p.yt.map(Number);
  const tickFont = { family: sans, size: 9.5 };

  new Chart(cv, {
    type: "line",
    data: {
      datasets: [{
        data: p.pts.map(([x, y]) => ({ x: x, y: y })),
        borderColor: "#000",
        borderWidth: 1.2,
        pointRadius: 0,
        tension: 0,
        fill: false
      }]
    },
    options: {
      responsive: false,
      animation: false,
      events: [],
      layout: { padding: { top: PADT, right: PADR, left: 0, bottom: 0 }, autoPadding: false },
      plugins: { legend: { display: false }, tooltip: { enabled: false } },
      scales: {
        x: {
          type: "linear",
          min: colRange[k][0],
          max: colRange[k][1],
          afterBuildTicks: ax => { ax.ticks = wlTickVals.map(v => ({ value: v })); },
          afterFit: ax => { ax.height = AXH; },
          ticks: { autoSkip: false, maxRotation: 0, padding: 1, color: "#1a1a1a", font: tickFont,
                   callback: (v, j) => wlTicks[j] },
          grid: { drawOnChartArea: false, tickLength: 4, color: "#000" },
          border: { color: "#000" },
          title: { display: true, text: "nm", color: "#1a1a1a", font: tickFont, padding: { top: 0, bottom: 3 } }
        },
        y: {
          type: "linear",
          min: p.y[0],
          max: p.y[1],
          afterBuildTicks: ax => { ax.ticks = yVals.map(v => ({ value: v })); },
          afterFit: ax => { ax.width = AXW; },
          ticks: { autoSkip: false, padding: 2, color: "#1a1a1a", font: tickFont,
                   callback: (v, j) => p.yt[j] },
          grid: { drawOnChartArea: false, tickLength: 3, color: "#000" },
          border: { color: "#000" },
          title: { display: true, text: "AU", color: "#1a1a1a", font: tickFont, padding: { top: 9, bottom: 0 } }
        }
      }
    },
    plugins: [decorFor(p)]
  });
});
</script>
</body>
</html>
